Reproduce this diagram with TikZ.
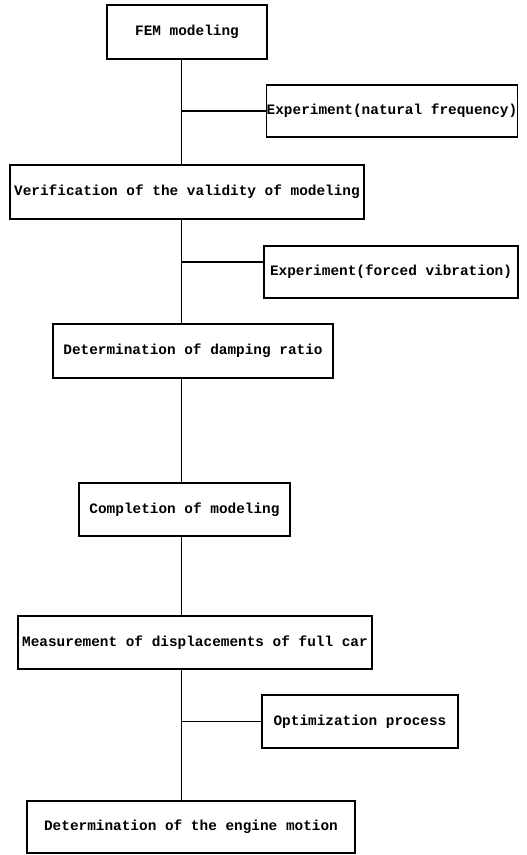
\documentclass[tikz,border=0pt]{standalone}
\usepackage{fontspec}
\setmonofont{Liberation Mono}
\begin{document}
\begin{tikzpicture}[x=1pt,y=-1pt,
  box/.style={draw, line width=1.2pt, inner sep=0pt, font=\ttfamily\bfseries\fontsize{14.4}{16}\selectfont},
  trunk/.style={line width=0.9pt},
  branch/.style={line width=1.3pt}]
\useasboundingbox (0,0) rectangle (527,855);
\coordinate (T) at (181,0);
\node[box, minimum width=160pt, minimum height=54pt] (b1) at (187,32) {FEM modeling};
\node[box, minimum width=250pt, minimum height=52pt] (b2) at (392,111) {Experiment(natural frequency)};
\node[box, minimum width=354pt, minimum height=54pt] (b3) at (187,192) {Verification of the validity of modeling};
\node[box, minimum width=254pt, minimum height=52pt] (b4) at (391,272) {Experiment(forced vibration)};
\node[box, minimum width=280pt, minimum height=54pt] (b5) at (193,351) {Determination of damping ratio};
\node[box, minimum width=211pt, minimum height=53pt] (b6) at (184.5,509.5) {Completion of modeling};
\node[box, minimum width=354pt, minimum height=53pt] (b7) at (195,642.5) {Measurement of displacements of full car};
\node[box, minimum width=196pt, minimum height=53pt] (b8) at (360,721.5) {Optimization process};
\node[box, minimum width=328pt, minimum height=52pt] (b9) at (191,827) {Determination of the engine motion};
\coordinate (j1) at (181,111);
\coordinate (j2) at (181,262);
\coordinate (j3) at (181,721.5);
\draw[trunk] (b1.south -| T) -- (b3.north -| T);
\draw[trunk] (b3.south -| T) -- (b5.north -| T);
\draw[trunk] (b5.south -| T) -- (b6.north -| T);
\draw[trunk] (b6.south -| T) -- (b7.north -| T);
\draw[trunk] (b7.south -| T) -- (b9.north -| T);
\draw[branch] (j1) -- (b2.west);
\draw[branch] (j2) -- (b4.west |- j2);
\draw[branch] (j3) -- (b8.west);
\end{tikzpicture}
\end{document}
